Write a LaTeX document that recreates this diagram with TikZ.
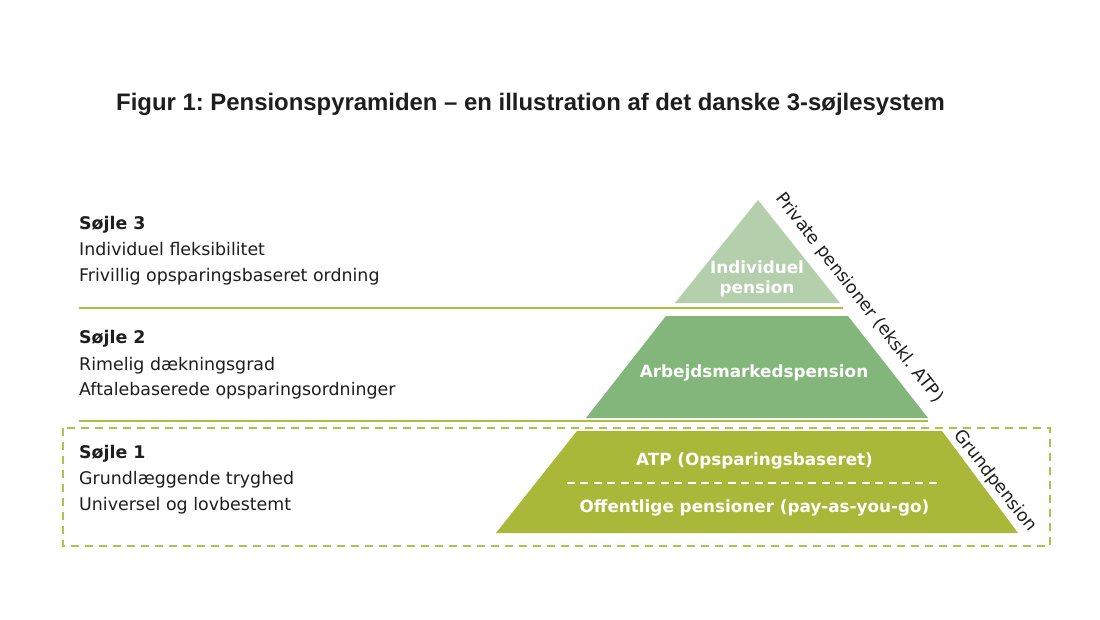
\documentclass[tikz,border=0pt]{standalone}
\usepackage{fontspec}
\setmainfont{DejaVu Sans}
\newfontfamily\titlefont{Liberation Sans}
\definecolor{txt}{HTML}{1E1E1E}
\definecolor{cthree}{HTML}{B4CFAC}
\definecolor{ctwo}{HTML}{83B67B}
\definecolor{cone}{HTML}{A9B838}
\definecolor{linegreen}{HTML}{A6C13C}
\definecolor{boxgreen}{HTML}{A8C54E}
\frenchspacing
\begin{document}
\begin{tikzpicture}[x=1pt,y=-1pt,
  body/.style={anchor=base west, inner sep=0pt, font=\fontsize{17.4}{20}\selectfont, text=txt},
  head/.style={body, font=\fontsize{17.4}{20}\selectfont\bfseries},
  lbl/.style={inner sep=0pt, text=white, font=\fontsize{16.8}{20}\selectfont\bfseries, anchor=base},
  side/.style={inner sep=0pt, rotate=-52, font=\fontsize{17.5}{20}\selectfont, text=txt},
  sepline/.style={draw=linegreen, line width=2pt},
  layer/.style={draw=none},
]
\useasboundingbox (0,0) rectangle (1100,619);
\fill[white] (0,0) rectangle (1100,619);

% title
\node[anchor=base west, inner sep=0pt, text=txt, font=\titlefont\bfseries\fontsize{23.9}{28}\selectfont] (title) at (116,110) {Figur 1: Pensionspyramiden – en illustration af det danske 3-søjlesystem};

% pyramid layers
\coordinate (apex) at (758,200);
\coordinate (t3r) at (840,303);
\coordinate (t3l) at (675,303);
\fill[layer, cthree] (apex) -- (t3r) -- (t3l) -- cycle;
\fill[layer, ctwo] (666,316) -- (848,316) -- (928,418) -- (586,418) -- cycle;
\fill[layer, cone] (577,431) -- (942,431) -- (1018,533) -- (496,533) -- cycle;

% separator lines
\coordinate (s3a) at (79,308);
\coordinate (s3b) at (843,308);
\coordinate (s2a) at (79,421);
\coordinate (s2b) at (928,421);
\draw[sepline] (s3a) -- (s3b);
\draw[sepline] (s2a) -- (s2b);

% dashed box for pillar 1
\coordinate (boxa) at (63,428);
\coordinate (boxb) at (1050,546);
\draw[boxgreen, line width=2pt, dash pattern=on 8pt off 6pt] (boxa) rectangle (boxb);

% inner dashed line
\coordinate (da) at (567,483);
\coordinate (db) at (940,483);
\draw[white, line width=2.5pt, dash pattern=on 8pt off 5.4pt] (da) -- (db);

% layer labels
\node[lbl] (ind1) at (757,273) {Individuel};
\node[lbl] (ind2) at (757,293) {pension};
\node[lbl] (arb) at (754,377) {Arbejdsmarkedspension};
\node[lbl] (atp) at (754.5,465) {ATP (Opsparingsbaseret)};
\node[lbl] (off) at (754.5,512) {Offentlige pensioner (pay-as-you-go)};

% side labels
\node[side] (priv) at (859,298) {Private pensioner (ekskl. ATP)};
\node[side] (grund) at (995,481) {Grundpension};

% left texts
\node[head] (h3) at (79,229) {Søjle 3};
\node[body] (a3) at (79,255) {Individuel fleksibilitet};
\node[body] (b3) at (79,281) {Frivillig opsparingsbaseret ordning};
\node[head] (h2) at (79,343) {Søjle 2};
\node[body] (a2) at (79,370) {Rimelig dækningsgrad};
\node[body] (b2) at (79,395) {Aftalebaserede opsparingsordninger};
\node[head] (h1) at (79,458) {Søjle 1};
\node[body] (a1) at (79,484) {Grundlæggende tryghed};
\node[body] (b1) at (79,510) {Universel og lovbestemt};
\end{tikzpicture}
\end{document}
